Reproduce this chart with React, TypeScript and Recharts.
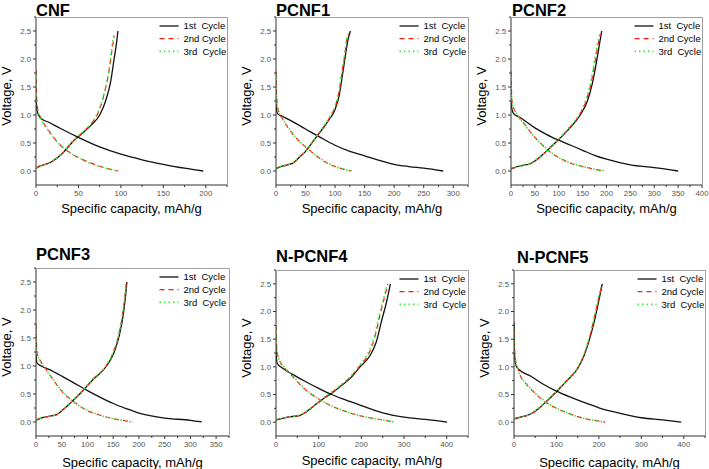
import React from 'react';
import { LineChart, Line, XAxis, YAxis } from 'recharts';

// capacity (mAh/g), voltage (V) pairs
const cnfDis1 = [[0, 1.3], [1, 1.1], [3, 1.0], [6, 0.94], [15, 0.87], [30, 0.75], [50, 0.6], [75, 0.43], [100, 0.3], [125, 0.2], [150, 0.12], [175, 0.05], [197, 0]];
const cnfDis2 = [[0, 1.8], [0.5, 1.4], [1.5, 1.15], [4, 1.0], [8, 0.88], [15, 0.72], [25, 0.52], [35, 0.38], [50, 0.24], [65, 0.14], [80, 0.06], [97, 0]];
const cnfDis3 = [[0, 1.75], [0.5, 1.38], [1.5, 1.14], [4, 0.99], [8, 0.87], [15, 0.71], [25, 0.52], [35, 0.38], [50, 0.24], [65, 0.13], [80, 0.06], [96, 0]];
const cnfChg1 = [[0, 0.05], [5, 0.09], [18, 0.16], [30, 0.3], [45, 0.55], [55, 0.68], [65, 0.82], [75, 1.0], [82, 1.25], [88, 1.6], [92, 2.0], [95, 2.3], [96.5, 2.5]];
const cnfChg2 = [[0, 0.05], [5, 0.09], [18, 0.16], [30, 0.3], [45, 0.55], [55, 0.69], [65, 0.84], [72, 1.0], [79, 1.3], [85, 1.7], [89, 2.1], [92, 2.42]];
const cnfChg3 = [[0, 0.06], [5, 0.09], [18, 0.16], [30, 0.31], [45, 0.56], [55, 0.7], [65, 0.85], [72, 1.02], [79, 1.32], [85, 1.72], [88.5, 2.1], [91, 2.4]];

const p1Dis1 = [[0, 1.2], [1, 1.08], [3, 1.02], [10, 0.98], [25, 0.9], [50, 0.75], [75, 0.6], [100, 0.46], [125, 0.35], [150, 0.27], [175, 0.19], [200, 0.12], [225, 0.08], [250, 0.05], [283, 0]];
const p1Dis2 = [[0, 1.78], [0.5, 1.5], [2, 1.2], [5, 1.05], [10, 0.95], [20, 0.78], [35, 0.58], [50, 0.43], [65, 0.3], [80, 0.18], [100, 0.08], [115, 0.03], [128, 0]];
const p1Dis3 = [[0, 1.75], [0.5, 1.48], [2, 1.19], [5, 1.05], [10, 0.96], [20, 0.79], [35, 0.58], [50, 0.43], [65, 0.3], [80, 0.19], [100, 0.08], [115, 0.03], [127, 0]];
const p1Chg1 = [[0, 0.04], [8, 0.08], [20, 0.11], [30, 0.15], [40, 0.25], [50, 0.35], [60, 0.49], [70, 0.63], [80, 0.77], [90, 0.92], [100, 1.1], [107, 1.35], [113, 1.75], [118, 2.1], [122, 2.35], [126, 2.5]];
const p1Chg2 = [[0, 0.04], [8, 0.08], [20, 0.11], [30, 0.15], [40, 0.25], [50, 0.36], [60, 0.5], [70, 0.64], [80, 0.78], [90, 0.94], [99, 1.12], [106, 1.38], [112, 1.78], [117, 2.12], [121, 2.4], [123, 2.45]];
const p1Chg3 = [[0, 0.03], [8, 0.08], [20, 0.11], [30, 0.16], [40, 0.26], [50, 0.36], [60, 0.5], [70, 0.64], [80, 0.79], [90, 0.95], [99, 1.13], [106, 1.4], [112, 1.8], [117, 2.15], [120.5, 2.4], [122, 2.44]];

const p2Dis1 = [[0, 1.25], [2, 1.1], [5, 1.03], [20, 0.95], [50, 0.77], [75, 0.65], [100, 0.55], [125, 0.46], [150, 0.37], [175, 0.28], [200, 0.21], [250, 0.11], [300, 0.06], [350, 0]];
const p2Dis2 = [[0, 1.78], [1, 1.4], [3, 1.2], [8, 1.08], [15, 0.98], [30, 0.82], [50, 0.6], [65, 0.47], [80, 0.35], [100, 0.24], [125, 0.14], [150, 0.08], [175, 0.03], [197, 0]];
const p2Dis3 = [[0, 1.75], [1, 1.38], [3, 1.19], [8, 1.08], [15, 0.98], [30, 0.81], [50, 0.6], [65, 0.47], [80, 0.36], [100, 0.24], [125, 0.14], [150, 0.08], [175, 0.03], [198, 0]];
const p2Chg1 = [[0, 0.04], [10, 0.07], [25, 0.1], [40, 0.13], [50, 0.18], [65, 0.28], [80, 0.4], [96, 0.53], [120, 0.74], [145, 1.0], [160, 1.25], [170, 1.55], [178, 1.9], [185, 2.25], [190, 2.5]];
const p2Chg2 = [[0, 0.04], [10, 0.07], [25, 0.1], [40, 0.13], [50, 0.18], [65, 0.28], [80, 0.4], [96, 0.53], [120, 0.75], [143, 1.0], [158, 1.27], [168, 1.58], [176, 1.95], [182, 2.25], [187, 2.45]];
const p2Chg3 = [[0, 0.03], [10, 0.07], [25, 0.1], [40, 0.13], [50, 0.19], [65, 0.29], [80, 0.41], [96, 0.54], [120, 0.76], [142, 1.0], [157, 1.28], [167, 1.6], [175, 1.97], [181, 2.27], [186, 2.44]];

const p3Dis1 = [[0, 1.2], [2, 1.05], [10, 1.0], [25, 0.94], [50, 0.82], [75, 0.69], [100, 0.56], [125, 0.44], [150, 0.33], [175, 0.24], [200, 0.16], [250, 0.07], [300, 0.03], [322, 0]];
const p3Dis2 = [[0, 1.75], [1, 1.4], [3, 1.2], [8, 1.1], [15, 1.0], [30, 0.8], [50, 0.55], [75, 0.35], [100, 0.2], [125, 0.12], [150, 0.06], [175, 0.02], [187, 0]];
const p3Dis3 = [[0, 1.72], [1, 1.38], [3, 1.19], [8, 1.1], [15, 0.99], [30, 0.8], [50, 0.56], [75, 0.35], [100, 0.21], [125, 0.12], [150, 0.06], [175, 0.02], [186, 0]];
const p3Chg1 = [[0, 0.03], [10, 0.07], [25, 0.1], [40, 0.13], [50, 0.2], [60, 0.28], [75, 0.41], [90, 0.55], [110, 0.75], [137, 1.0], [152, 1.25], [162, 1.55], [170, 1.95], [174, 2.25], [176.5, 2.5]];
const p3Chg2 = [[0, 0.03], [10, 0.07], [25, 0.1], [40, 0.13], [50, 0.2], [60, 0.28], [75, 0.41], [90, 0.55], [110, 0.76], [136, 1.0], [151, 1.26], [161, 1.57], [169, 1.97], [173, 2.27], [175.5, 2.48]];
const p3Chg3 = [[0, 0.03], [10, 0.07], [25, 0.1], [40, 0.14], [50, 0.21], [60, 0.29], [75, 0.42], [90, 0.56], [110, 0.76], [136, 1.01], [151, 1.27], [161, 1.58], [169, 1.98], [173, 2.28], [175, 2.46]];

const p4Dis1 = [[0, 1.35], [1, 1.15], [3, 1.06], [15, 0.98], [40, 0.86], [70, 0.73], [100, 0.61], [130, 0.5], [160, 0.41], [200, 0.3], [250, 0.17], [300, 0.09], [350, 0.05], [401, 0]];
const p4Dis2 = [[0, 1.75], [1, 1.45], [3, 1.25], [8, 1.12], [20, 0.98], [40, 0.82], [60, 0.65], [80, 0.52], [100, 0.42], [125, 0.31], [150, 0.23], [200, 0.11], [250, 0.04], [278, 0]];
const p4Dis3 = [[0, 1.72], [1, 1.43], [3, 1.24], [8, 1.12], [20, 0.99], [40, 0.83], [60, 0.66], [80, 0.53], [100, 0.42], [125, 0.31], [150, 0.23], [200, 0.11], [250, 0.04], [279, 0]];
const p4Chg1 = [[0, 0.04], [15, 0.07], [35, 0.1], [55, 0.12], [70, 0.18], [90, 0.3], [110, 0.42], [130, 0.52], [150, 0.64], [175, 0.8], [197, 1.0], [220, 1.2], [235, 1.45], [248, 1.85], [260, 2.2], [268, 2.5]];
const p4Chg2 = [[0, 0.04], [15, 0.07], [35, 0.1], [55, 0.12], [70, 0.18], [90, 0.3], [110, 0.42], [130, 0.53], [150, 0.65], [175, 0.82], [197, 1.02], [218, 1.25], [232, 1.55], [244, 1.95], [254, 2.25], [262, 2.5]];
const p4Chg3 = [[0, 0.03], [15, 0.07], [35, 0.1], [55, 0.13], [70, 0.19], [90, 0.31], [110, 0.43], [130, 0.54], [150, 0.66], [175, 0.83], [196, 1.03], [217, 1.27], [231, 1.57], [243, 1.97], [253, 2.27], [260, 2.48]];

const p5Dis1 = [[0, 1.8], [0.5, 1.4], [2, 1.15], [6, 1.0], [15, 0.93], [40, 0.83], [70, 0.68], [100, 0.56], [130, 0.46], [160, 0.37], [200, 0.26], [250, 0.16], [300, 0.08], [350, 0.04], [394, 0]];
const p5Dis2 = [[0, 1.65], [1, 1.35], [4, 1.1], [10, 0.95], [15, 0.84], [30, 0.68], [50, 0.52], [75, 0.36], [100, 0.25], [125, 0.17], [150, 0.1], [175, 0.05], [200, 0.02], [215, 0]];
const p5Dis3 = [[0, 1.62], [1, 1.33], [4, 1.09], [10, 0.94], [15, 0.84], [30, 0.69], [50, 0.52], [75, 0.37], [100, 0.25], [125, 0.17], [150, 0.1], [175, 0.05], [200, 0.02], [214, 0]];
const p5Chg1 = [[0, 0.06], [15, 0.09], [30, 0.12], [45, 0.17], [60, 0.26], [80, 0.4], [100, 0.55], [125, 0.75], [150, 0.97], [165, 1.2], [178, 1.5], [190, 1.85], [200, 2.2], [208, 2.5]];
const p5Chg2 = [[0, 0.06], [15, 0.09], [30, 0.12], [45, 0.17], [60, 0.26], [80, 0.4], [100, 0.56], [125, 0.76], [150, 0.98], [165, 1.22], [178, 1.53], [189, 1.88], [199, 2.22], [207, 2.48]];
const p5Chg3 = [[0, 0.05], [15, 0.09], [30, 0.12], [45, 0.18], [60, 0.27], [80, 0.41], [100, 0.56], [125, 0.76], [150, 0.99], [165, 1.23], [177, 1.53], [189, 1.9], [198, 2.22], [206, 2.47]];

const voltTicks = [0, 0.5, 1.0, 1.5, 2.0, 2.5];
const ticks200 = [0, 50, 100, 150, 200];
const ticks300 = [0, 50, 100, 150, 200, 250, 300];
const ticks350 = [0, 50, 100, 150, 200, 250, 300, 350];
const ticks400by50 = [0, 50, 100, 150, 200, 250, 300, 350, 400];
const ticks400by100 = [0, 100, 200, 300, 400];

const cycleNames = ['1st  Cycle', '2nd Cycle', '3rd  Cycle'];

const FONT = '"Liberation Sans", Arial, sans-serif';
const AXIS = '#333';
const TICK_TEXT = '#555';
const FRAME = '#a0a0a0';
const STYLES = [
  { stroke: '#111', width: 1.3, dash: undefined },
  { stroke: '#ff1a1a', width: 1.2, dash: '5 4' },
  { stroke: '#33ee33', width: 1.6, dash: '1.5 3' },
];

const pts = (a: number[][]) => a.map(([c, v]) => ({ c, v }));

// major ticks plus the unlabeled minor ticks half-way between them
const withMinor = (major: number[], upTo: number) => {
  const step = major[1] - major[0];
  const out: number[] = [];
  for (let t = major[0]; t <= upTo + 1e-9; t += step / 2) out.push(Math.round(t * 1000) / 1000);
  return out;
};

type Panel = {
  title: string;
  tx: number;
  ty: number;
  x0: number;
  x1: number;
  y0: number;
  y1: number;
  xmax: number;
  xticks: number[];
  labelOff: number;
  dis: number[][][];
  chg: number[][][];
};

const panels: Panel[] = [
  { title: 'CNF', tx: 36, ty: 15.5, x0: 36, x1: 227, y0: 17, y1: 185, xmax: 225, xticks: ticks200, labelOff: 5, dis: [cnfDis1, cnfDis2, cnfDis3], chg: [cnfChg1, cnfChg2, cnfChg3] },
  { title: 'PCNF1', tx: 276, ty: 15.5, x0: 276, x1: 468, y0: 17, y1: 185, xmax: 325, xticks: ticks300, labelOff: 5, dis: [p1Dis1, p1Dis2, p1Dis3], chg: [p1Chg1, p1Chg2, p1Chg3] },
  { title: 'PCNF2', tx: 512, ty: 15.5, x0: 511, x1: 702, y0: 17, y1: 185, xmax: 400, xticks: ticks400by50, labelOff: 5, dis: [p2Dis1, p2Dis2, p2Dis3], chg: [p2Chg1, p2Chg2, p2Chg3] },
  { title: 'PCNF3', tx: 36, ty: 260, x0: 36, x1: 229, y0: 268, y1: 436, xmax: 375, xticks: ticks350, labelOff: 8, dis: [p3Dis1, p3Dis2, p3Dis3], chg: [p3Chg1, p3Chg2, p3Chg3] },
  { title: 'N-PCNF4', tx: 276, ty: 262, x0: 276, x1: 468, y0: 270, y1: 436, xmax: 450, xticks: ticks400by100, labelOff: 6, dis: [p4Dis1, p4Dis2, p4Dis3], chg: [p4Chg1, p4Chg2, p4Chg3] },
  { title: 'N-PCNF5', tx: 517, ty: 262.5, x0: 514, x1: 705, y0: 270, y1: 436, xmax: 450, xticks: ticks400by100, labelOff: 8, dis: [p5Dis1, p5Dis2, p5Dis3], chg: [p5Chg1, p5Chg2, p5Chg3] },
];

const XTick = ({ x, y, payload, major }: any) => {
  const isMajor = major.includes(payload.value);
  const top = y - 5;
  return (
    <g>
      <line x1={x} x2={x} y1={top} y2={top + (isMajor ? 3 : 2)} stroke={AXIS} />
      {isMajor && (
        <text x={x} y={y} dy="0.71em" textAnchor="middle" fontSize={7.8} fill={TICK_TEXT} fontFamily={FONT}>
          {payload.value}
        </text>
      )}
    </g>
  );
};

const YTick = ({ x, y, payload }: any) => {
  const isMajor = voltTicks.includes(payload.value);
  const edge = x + 5;
  return (
    <g>
      <line x1={edge} x2={edge - (isMajor ? 3 : 2)} y1={y} y2={y} stroke={AXIS} />
      {isMajor && (
        <text x={x} y={y} dy="0.355em" textAnchor="end" fontSize={7.8} fill={TICK_TEXT} fontFamily={FONT}>
          {payload.value.toFixed(1)}
        </text>
      )}
    </g>
  );
};

const CapacityPanel = ({ p }: { p: Panel }) => {
  const width = p.x1 - p.x0 + 44;
  const height = p.y1 - p.y0 + 51;
  const yLabel = (props: any) => {
    const vb = props.viewBox;
    const x = vb.x - 3;
    const y = vb.y + vb.height / 2 - 5;
    return (
      <text x={x} y={y} transform={`rotate(-90 ${x} ${y})`} textAnchor="middle" fontSize={13} fontFamily={FONT} fill="#000">
        Voltage, V
      </text>
    );
  };
  return (
    <div style={{ position: 'absolute', left: p.x0 - 36, top: p.y0 - 17 }}>
      <LineChart width={width} height={height} margin={{ top: 17, right: 8, left: 14, bottom: 20 }}>
        <XAxis
          type="number"
          dataKey="c"
          domain={[0, p.xmax]}
          ticks={withMinor(p.xticks, p.xmax)}
          interval={0}
          allowDataOverflow
          height={14}
          tickSize={3}
          tickLine={false}
          tick={<XTick major={p.xticks} />}
          stroke={AXIS}
          label={{ value: 'Specific capacity, mAh/g', position: 'bottom', offset: p.labelOff, fontSize: 13, fill: '#000', fontFamily: FONT }}
        />
        <YAxis
          type="number"
          domain={[-0.25, 2.75]}
          ticks={withMinor(voltTicks, 2.75)}
          interval={0}
          allowDataOverflow
          width={22}
          tickSize={3}
          tickLine={false}
          tick={<YTick />}
          stroke={AXIS}
          label={{ content: yLabel }}
        />
        {[0, 1, 2].map((i) => (
          <Line
            key={`d${i}`}
            data={pts(p.dis[i])}
            dataKey="v"
            type="monotone"
            stroke={STYLES[i].stroke}
            strokeWidth={STYLES[i].width}
            strokeDasharray={STYLES[i].dash}
            dot={false}
            isAnimationActive={false}
          />
        ))}
        {[0, 1, 2].map((i) => (
          <Line
            key={`c${i}`}
            data={pts(p.chg[i])}
            dataKey="v"
            type="monotone"
            stroke={STYLES[i].stroke}
            strokeWidth={STYLES[i].width}
            strokeDasharray={STYLES[i].dash}
            dot={false}
            isAnimationActive={false}
          />
        ))}
      </LineChart>
    </div>
  );
};

// titles, the grey top/right frame edge and the legends
const Overlay = () => (
  <svg width={709} height={469} style={{ position: 'absolute', left: 0, top: 0, pointerEvents: 'none' }}>
    {panels.map((p) => (
      <g key={p.title}>
        <path d={`M${p.x0} ${p.y0 + 0.5}H${p.x1 + 0.5}V${p.y1}`} fill="none" stroke={FRAME} strokeWidth={1} />
        <text x={p.tx} y={p.ty} fontSize={16.5} fontWeight={700} fontFamily={FONT} fill="#000">
          {p.title}
        </text>
        {cycleNames.map((name, i) => {
          const lx = p.x0 + 123.5;
          const ly = p.y0 + 9 + i * 12.7;
          return (
            <g key={name}>
              <line x1={lx} x2={lx + 19} y1={ly} y2={ly} stroke={STYLES[i].stroke} strokeWidth={STYLES[i].width} strokeDasharray={STYLES[i].dash} />
              <text x={lx + 24} y={ly + 3.4} fontSize={9.5} fontFamily={FONT} fill="#000" style={{ whiteSpace: 'pre' }}>
                {name}
              </text>
            </g>
          );
        })}
      </g>
    ))}
  </svg>
);

export default function App() {
  return (
    <div style={{ position: 'absolute', left: 0, top: 0, width: 709, height: 469, background: '#fff' }}>
      {panels.map((p) => (
        <CapacityPanel key={p.title} p={p} />
      ))}
      <Overlay />
    </div>
  );
}
